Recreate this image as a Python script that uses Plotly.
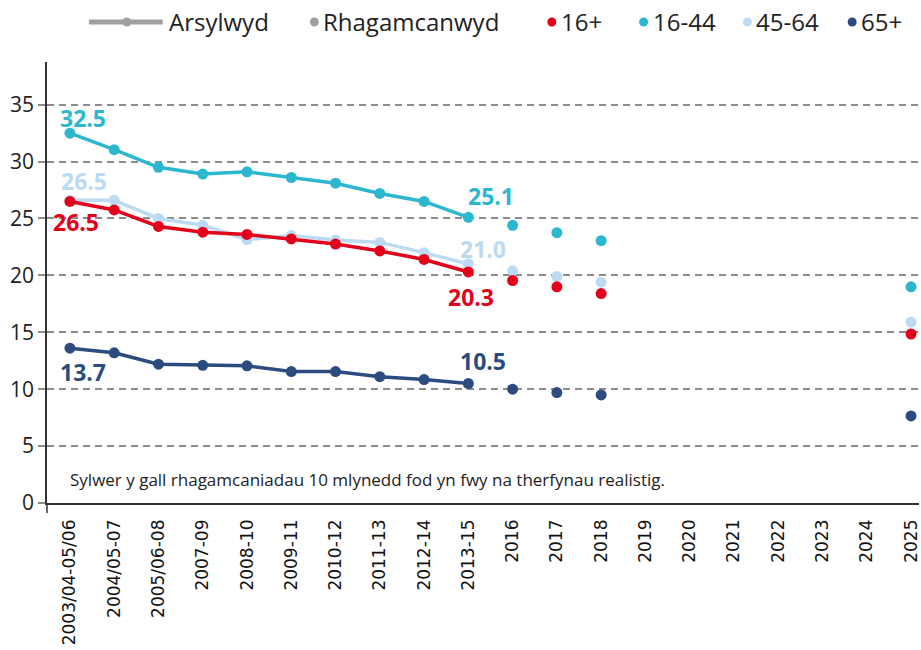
import plotly.graph_objects as go

categories = ["2003/04-05/06", "2004/05-07", "2005/06-08", "2007-09", "2008-10",
              "2009-11", "2010-12", "2011-13", "2012-14", "2013-15",
              "2016", "2017", "2018", "2019", "2020", "2021", "2022", "2023", "2024", "2025"]
obs_cats = categories[:10]
proj_cats = ["2016", "2017", "2018", "2025"]

series_names = ["16+", "16-44", "45-64", "65+"]
obs_16plus = [26.5, 25.75, 24.3, 23.8, 23.6, 23.2, 22.75, 22.15, 21.4, 20.3]
obs_16_44 = [32.5, 31.05, 29.5, 28.9, 29.1, 28.6, 28.1, 27.2, 26.5, 25.1]
obs_45_64 = [26.6, 26.6, 25.0, 24.4, 23.15, 23.5, 23.1, 22.9, 22.0, 21.0]
obs_65plus = [13.6, 13.2, 12.2, 12.1, 12.05, 11.55, 11.55, 11.1, 10.85, 10.5]

proj_16plus = [19.55, 19.0, 18.4, 14.85]
proj_16_44 = [24.4, 23.75, 23.05, 19.0]
proj_45_64 = [20.4, 19.9, 19.4, 15.9]
proj_65plus = [10.0, 9.7, 9.5, 7.65]

y_ticks = [0, 5, 10, 15, 20, 25, 30, 35]

legend_labels = ["Arsylwyd", "Rhagamcanwyd"]
note_text = "Sylwer y gall rhagamcaniadau 10 mlynedd fod yn fwy na therfynau realistig."

# data labels shown at first and last observed points, per series
label_first = {"16+": "26.5", "16-44": "32.5", "45-64": "26.5", "65+": "13.7"}
label_last = {"16+": "20.3", "16-44": "25.1", "45-64": "21.0", "65+": "10.5"}

colors = {"16+": "#E2001A", "16-44": "#2BB8CF", "45-64": "#BDDAF3", "65+": "#2C4C80"}
obs = {"16+": obs_16plus, "16-44": obs_16_44, "45-64": obs_45_64, "65+": obs_65plus}
proj = {"16+": proj_16plus, "16-44": proj_16_44, "45-64": proj_45_64, "65+": proj_65plus}

fig = go.Figure()
draw_order = ["45-64", "16+", "16-44", "65+"]
for s in draw_order:
    fig.add_trace(go.Scatter(x=obs_cats, y=obs[s], mode="lines+markers", name=s + " (Arsylwyd)",
                             line=dict(color=colors[s], width=3.5),
                             marker=dict(color=colors[s], size=11), showlegend=False))
for s in draw_order:
    fig.add_trace(go.Scatter(x=proj_cats, y=proj[s], mode="markers", name=s + " (Rhagamcanwyd)",
                             marker=dict(color=colors[s], size=11), showlegend=False))

W, H = 921, 650
ML, MR, MT, MB = 47, 0, 62, 147
PW, PH = W - ML - MR, H - MT - MB


def px(xp):
    return (xp - ML) / PW


def py(yp):
    return (H - MB - yp) / PH


label_font = "Open Sans, sans-serif"
annotations = []
first_shifts = {"16-44": (13, 15), "45-64": (14, 19), "16+": (6, -21), "65+": (13, -24)}
last_shifts = {"16-44": (23, 21), "45-64": (15, 15), "16+": (3, -25), "65+": (15, 23)}
for s in series_names:
    xs, ys = first_shifts[s]
    annotations.append(dict(x=obs_cats[0], y=obs[s][0], xref="x", yref="y", text=label_first[s],
                            showarrow=False, xanchor="center", yanchor="middle",
                            xshift=xs, yshift=ys,
                            font=dict(family=label_font, size=23, color=colors[s], weight="bold")))
    xs, ys = last_shifts[s]
    annotations.append(dict(x=obs_cats[-1], y=obs[s][-1], xref="x", yref="y", text=label_last[s],
                            showarrow=False, xanchor="center", yanchor="middle",
                            xshift=xs, yshift=ys,
                            font=dict(family=label_font, size=23, color=colors[s], weight="bold")))

# note
annotations.append(dict(x=px(68), y=py(479), xref="paper", yref="paper", text=note_text,
                        showarrow=False, xanchor="left", yanchor="middle",
                        font=dict(family="Open Sans, sans-serif", size=17, color="#222222")))

# legend drawn in the header
legend_font = dict(family="Open Sans, sans-serif", size=24, color="#222222")
shapes = []
LY = 22
shapes.append(dict(type="line", xref="paper", yref="paper", x0=px(89), x1=px(163), y0=py(LY), y1=py(LY),
                   line=dict(color="#A0A0A0", width=5)))


def circle(cx, cy, r, color):
    return dict(type="circle", xref="paper", yref="paper", x0=px(cx - r), x1=px(cx + r),
                y0=py(cy + r), y1=py(cy - r), fillcolor=color, line=dict(width=0))


shapes.append(circle(127, LY, 4.5, "#A0A0A0"))
annotations.append(dict(x=px(167), y=py(LY), xref="paper", yref="paper", text=legend_labels[0],
                        showarrow=False, xanchor="left", yanchor="middle", font=legend_font))
shapes.append(circle(315, LY, 4.5, "#A0A0A0"))
annotations.append(dict(x=px(322), y=py(LY), xref="paper", yref="paper", text=legend_labels[1],
                        showarrow=False, xanchor="left", yanchor="middle", font=legend_font))
leg_pos = {"16+": (553, 560), "16-44": (645, 652), "45-64": (749, 756), "65+": (854, 861)}
for s in series_names:
    mx, tx = leg_pos[s]
    shapes.append(circle(mx, LY, 4.5, colors[s]))
    annotations.append(dict(x=px(tx), y=py(LY), xref="paper", yref="paper", text=s,
                            showarrow=False, xanchor="left", yanchor="middle", font=legend_font))

# y-axis extension below zero
shapes.append(dict(type="line", xref="paper", yref="paper", x0=0, x1=0, y0=0, y1=-10 / PH,
                   line=dict(color="#333333", width=1.5)))

fig.update_layout(
    width=W, height=H,
    margin=dict(l=ML, r=MR, t=MT, b=MB, pad=0),
    plot_bgcolor="white", paper_bgcolor="white",
    showlegend=False,
    annotations=annotations,
    shapes=shapes,
    xaxis=dict(type="category", categoryorder="array", categoryarray=categories,
               range=[-0.518, 19.18], showgrid=False, zeroline=False,
               showline=True, linecolor="#333333", linewidth=1.5,
               ticks="outside", ticklen=8, tickcolor="rgba(0,0,0,0)",
               tickangle=-90, tickfont=dict(family="DejaVu Sans, sans-serif", size=17, color="#111111")),
    yaxis=dict(range=[0, 38.75], tickvals=y_ticks, showgrid=True, gridcolor="#8C8C8C",
               gridwidth=1.5, griddash="7px,5px", zeroline=False,
               showline=True, linecolor="#333333", linewidth=1.5,
               ticks="outside", ticklen=7, tickcolor="#8C8C8C", tickwidth=1.5,
               tickfont=dict(family="Open Sans, sans-serif", size=21, color="#222222")),
)

fig.write_html("out.html", config={"displayModeBar": False},
               post_script="document.body.style.margin='0';document.body.style.overflow='hidden';")
